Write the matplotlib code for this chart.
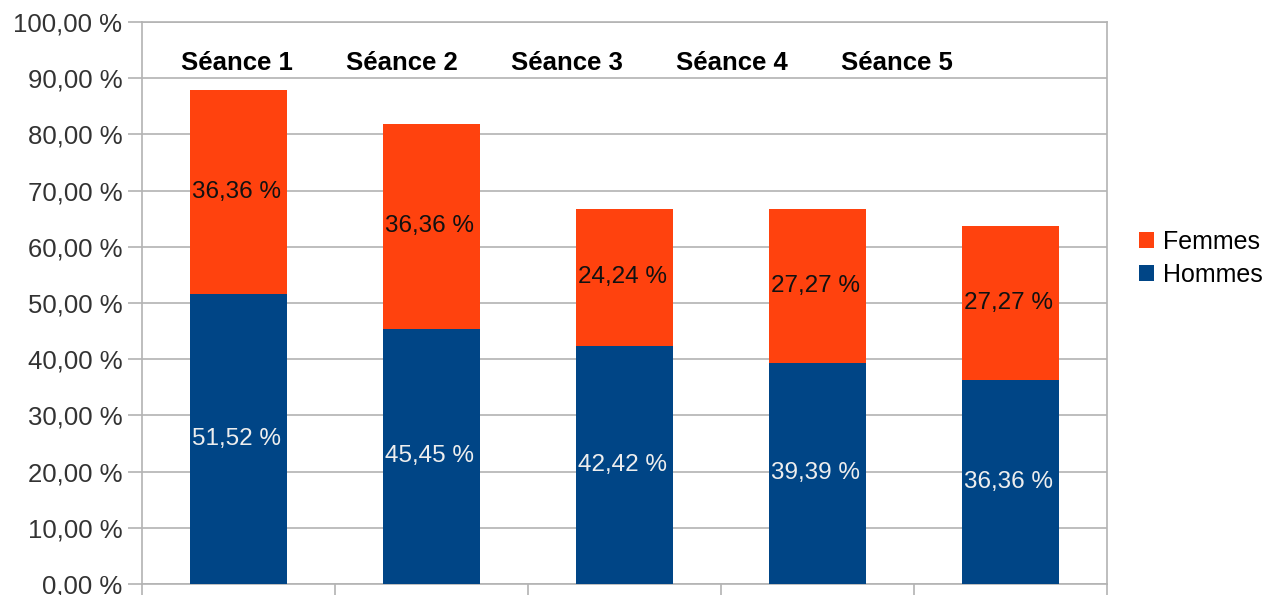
import matplotlib
matplotlib.use('Agg')
import matplotlib.pyplot as plt
import numpy as np

plt.rcParams['font.family'] = ['Liberation Sans', 'DejaVu Sans']

seances = ['Séance 1', 'Séance 2', 'Séance 3', 'Séance 4', 'Séance 5']
hommes = [51.52, 45.45, 42.42, 39.39, 36.36]
femmes = [36.36, 36.36, 24.24, 27.27, 27.27]
yticks = [0, 10, 20, 30, 40, 50, 60, 70, 80, 90, 100]

c_hommes = '#004586'
c_femmes = '#ff420e'
grid = '#b3b3b3'

fig = plt.figure(figsize=(12.73, 5.95), dpi=100)
ax = fig.add_axes([0.1115, 0.0185, 0.758, 0.9445])

x = np.arange(len(seances))
b1 = ax.bar(x, hommes, width=0.5, color=c_hommes, label='Hommes', zorder=3)
b2 = ax.bar(x, femmes, width=0.5, bottom=hommes, color=c_femmes, label='Femmes', zorder=3)

fmt = lambda v: f'{v:.2f} %'.replace('.', ',')
for i in range(len(seances)):
    ax.text(x[i] - 0.01, hommes[i] / 2, fmt(hommes[i]), ha='center', va='center',
            color='#eeeeee', fontsize=17.5, zorder=4)
    ax.text(x[i] - 0.01, hommes[i] + femmes[i] / 2, fmt(femmes[i]), ha='center', va='center',
            color='#111111', fontsize=17.5, zorder=4)
    # session names sit above the bars, drifting left
    ax.text(i * 0.855 - 0.01, 92.7, seances[i], ha='center', va='center',
            fontsize=18.5, fontweight='bold', color='black')

ax.set_xlim(-0.5, len(seances) - 0.5)
ax.set_ylim(0, 100)
ax.set_yticks(yticks)
ax.set_yticklabels([fmt(v) for v in yticks], fontsize=18.5, color='#333333')
ax.set_xticks(np.arange(len(seances) + 1) - 0.5)
ax.set_xticklabels([])
ax.tick_params(axis='y', length=10, color=grid, width=1.2, pad=4)
ax.tick_params(axis='x', length=8, color=grid, width=1.2)
ax.grid(axis='y', color=grid, linewidth=1.2, zorder=0)
for s in ax.spines.values():
    s.set_color(grid)
    s.set_linewidth(1.2)

h, l = ax.get_legend_handles_labels()
fig.legend(h[::-1], l[::-1], loc='center left', bbox_to_anchor=(0.885, 0.566),
           frameon=False, fontsize=18, handlelength=0.6, handleheight=0.6,
           handletextpad=0.35, labelspacing=0.35, borderpad=0)

fig.savefig('out.png', dpi=100)
